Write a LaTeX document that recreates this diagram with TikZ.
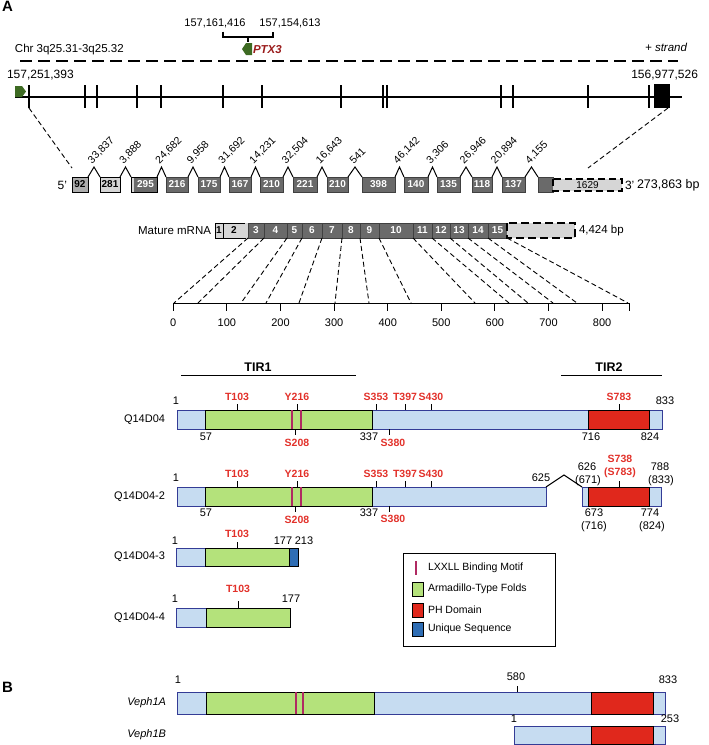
\documentclass[tikz,border=0pt]{standalone}
\usepackage{fontspec}
\setmainfont{Liberation Sans}
\definecolor{lblue}{HTML}{C6DCF1}
\definecolor{bborder}{HTML}{343C96}
\definecolor{lgreen}{HTML}{B4E27B}
\definecolor{pred}{HTML}{E0281C}
\definecolor{ublue}{HTML}{2E6DB4}
\definecolor{lxxll}{HTML}{B02A62}
\definecolor{exdark}{HTML}{6A6A6A}
\definecolor{exlight}{HTML}{D6D6D6}
\definecolor{exmid}{HTML}{AEAEAE}
\definecolor{ptx}{HTML}{9A1B1B}
\definecolor{agreen}{HTML}{3E6B23}
\definecolor{lred}{HTML}{E2312A}
\begin{document}
\begin{tikzpicture}[x=1pt,y=-1pt,
 every node/.style={inner sep=0pt, outer sep=0pt},
 lab/.style={font=\fontsize{11}{12}\selectfont},
 biglab/.style={font=\fontsize{12}{13}\selectfont},
 redlab/.style={font=\bfseries\fontsize{10.5}{12}\selectfont, text=lred},
 intr/.style={font=\fontsize{10.5}{11}\selectfont, rotate=45, anchor=south west},
 exd/.style={fill=exdark, draw=black!75, line width=0.6pt},
 exl/.style={fill=exlight, draw=black, line width=0.8pt},
 extd/.style={font=\bfseries\fontsize{10}{10}\selectfont, text=white},
 extl/.style={font=\bfseries\fontsize{10}{10}\selectfont, text=black},
 prot/.style={fill=lblue, draw=bborder, line width=1pt},
 arm/.style={fill=lgreen, draw=black, line width=0.9pt},
 ph/.style={fill=pred, draw=black, line width=0.9pt},
 uniq/.style={fill=ublue, draw=black, line width=0.9pt},
 motif/.style={draw=lxxll, line width=1.1pt},
 tk/.style={line width=0.8pt},
 conn/.style={dash pattern=on 5pt off 3pt, line width=0.9pt},
 leg/.style={anchor=west, font=\fontsize{10.5}{11}\selectfont},
 bold/.style={font=\bfseries\fontsize{12.5}{13}\selectfont},
]
\useasboundingbox (0,0) rectangle (709,745);

% ---------------- Panel A: chromosome ----------------
\node[font=\bfseries\fontsize{15}{15}\selectfont, anchor=north west] (pA) at (2,1.5) {A};
\node[lab] (c1) at (215,23) {157,161,416};
\node[lab] (c2) at (290,23) {157,154,613};
\draw[line width=1.3pt] (223,31.5) -- (223,37) -- (273,37) -- (273,31.5);
\draw[line width=1.3pt] (248,37) -- (248,42);
\fill[agreen] (242,49) -- (246,43) -- (252,43) -- (252,55) -- (246,55) -- cycle;
\node[font=\bfseries\itshape\fontsize{11.5}{12}\selectfont, text=ptx, anchor=west] (ptx3) at (253,50) {PTX3};
\node[font=\fontsize{11.5}{12}\selectfont, anchor=west] (chr) at (15,50) {Chr 3q25.31-3q25.32};
\draw[dash pattern=on 12pt off 6pt, line width=1.4pt] (20,61) -- (678,61);
\node[anchor=east, font=\itshape\fontsize{11.5}{12}\selectfont] (strand) at (687,47) {+ strand};
\node[biglab, anchor=west] (g1) at (7,75) {157,251,393};
\node[biglab, anchor=east] (g2) at (698,75) {156,977,526};

\draw[line width=1.1pt] (15,97) -- (682,97);
\fill[agreen] (15,86) -- (22,86) -- (26,91.5) -- (22,97) -- (15,97) -- cycle;
\foreach \x in {29,85,97,137,161,223,262,341,383,387,501,513,588,649}
  \draw[line width=1.1pt] (\x,85) -- (\x,108);
\fill (654,84) rectangle (670,108);
\coordinate (e1b) at (29,108);
\coordinate (e15b) at (668,108);
\coordinate (r5) at (72,168);
\coordinate (r3) at (588,168);
\draw[conn] (e1b) -- (r5);
\draw[conn] (e15b) -- (r3);

% ---------------- exon structure ----------------
\node[biglab, anchor=east] (p5) at (67,185) {5'};
\filldraw[fill=exmid, draw=black, line width=0.9pt] (72,177) rectangle (88,192);
\node[extl] (x92) at (80,184.5) {92};
\filldraw[exl] (100,177) rectangle (120,192);
\node[extl] (x281) at (110,184.5) {281};
\fill[exlight] (131,177) rectangle (134,192);
\fill[exdark] (134,177) rectangle (157,192);
\draw[black, line width=0.8pt] (131,177) rectangle (157,192);
\node[extd] (x295) at (145.5,184.5) {295};
\foreach \a/\b/\t [count=\i] in {166/188/216, 198/220/175, 229/251/167, 260/283/210,
   293/317/221, 327/348/210, 362/395/398, 404/428/140, 437/460/135, 472/492/118, 502/525/137} {
  \filldraw[exd] (\a,177) rectangle (\b,192);
  \node[extd] (xd\i) at ({(\a+\b)/2},184.5) {\t};
}
\filldraw[exd] (538,177) rectangle (553,192);
\filldraw[fill=exlight, draw=black, dash pattern=on 7pt off 4pt, line width=1.1pt] (553,179) rectangle (622,191);
\node[font=\fontsize{10}{10}\selectfont] (x1629) at (587.5,185) {1629};
\node[biglab, anchor=west] (p3) at (625,185) {3'};
\node[font=\fontsize{12.5}{13}\selectfont, anchor=west] (bp1) at (637,185) {273,863 bp};

\foreach \a/\b/\t [count=\i] in {88/100/{33,837}, 120/131/{3,888}, 157/166/{24,682},
   188/198/{9,958}, 220/229/{31,692}, 251/260/{14,231}, 283/293/{32,504}, 317/327/{16,643},
   348/362/{541}, 395/404/{46,142}, 428/437/{3,306}, 460/472/{26,946}, 492/502/{20,894},
   525/538/{4,155}} {
  \draw[line width=1pt] (\a,177) -- ({(\a+\b)/2},167) -- (\b,177);
  \node[intr] (in\i) at ({(\a+\b)/2-1},165) {\t};
}

% ---------------- mature mRNA ----------------
\node[font=\fontsize{11.5}{12}\selectfont, anchor=east] (mm) at (211,230.5) {Mature mRNA};
\filldraw[exl] (215,223) rectangle (223,238);
\node[extl] (m1) at (219,230.5) {1};
\filldraw[exl] (223,223) rectangle (245,238);
\node[extl] (m2) at (234,230.5) {2};
\fill[exlight] (245,223) rectangle (248,238);
\foreach \a/\b/\t in {248/264/3, 264/287/4, 287/302/5, 302/322/6, 322/342/7, 342/360/8,
   360/379/9, 379/413/10, 413/432/11, 432/450/12, 450/468/13, 468/488/14, 488/507/15} {
  \filldraw[exd] (\a,223) rectangle (\b,238);
  \node[extd] (m\t) at ({(\a+\b)/2},230.5) {\t};
}
\filldraw[fill=exlight, draw=black, dash pattern=on 8pt off 4pt, line width=1.2pt] (507,223) rectangle (575,238);
\node[font=\fontsize{11.5}{12}\selectfont, anchor=west] (bp2) at (579,230.5) {4,424 bp};

% connectors to scale
\foreach \t/\b [count=\i] in {248/174, 264/198, 287/241, 302/266, 322/299, 342/335, 360/369,
   379/411, 413/475, 432/509, 450/528, 468/553, 488/577, 507/628} {
  \coordinate (mt\i) at (\t,238);
  \coordinate (mb\i) at (\b,303);
  \draw[conn] (mt\i) -- (mb\i);
}

% scale axis
\coordinate (ax0) at (173.3,303);
\coordinate (ax1) at (629,303);
\draw[line width=1pt] (ax0) -- (ax1);
\foreach \v [count=\i] in {0,100,...,800} {
  \draw[line width=1pt] ({173.3+0.536*\v},303) -- ++(0,8);
  \node[lab] (axl\i) at ({173.3+0.536*\v},323) {\v};
}
\draw[line width=1pt] (ax1) -- ++(0,8);

% ---------------- TIR headers ----------------
\node[bold] (tir1) at (258,367) {TIR1};
\draw[line width=1pt] (181,375) -- (356,375);
\node[bold] (tir2) at (609,367) {TIR2};
\draw[line width=1pt] (561,375) -- (662,375);

% ---------------- Q14D04 ----------------
\node[lab, anchor=east] (q1) at (165,419.5) {Q14D04};
\filldraw[prot] (177,410) rectangle (662,429);
\filldraw[arm] (205,410) rectangle (372,429);
\filldraw[ph] (588,410) rectangle (649,429);
\draw[motif] (292,410) -- (292,429) (301,410) -- (301,429);
\foreach \x/\t [count=\i] in {237/T103, 297/Y216, 376/S353, 405/T397, 431/S430, 619/S783} {
  \draw[tk] (\x,404) -- (\x,410);
  \node[redlab] (q1t\i) at (\x,397) {\t};
}
\draw[tk] (295,429) -- (295,435);
\draw[tk] (389,429) -- (389,435);
\node[redlab] (q1b1) at (297,443) {S208};
\node[redlab] (q1b2) at (393,443) {S380};
\node[lab] (q1n1) at (176,401) {1};
\node[lab] (q1n2) at (665,401) {833};
\node[lab] (q1n3) at (206,437) {57};
\node[lab] (q1n4) at (369,437) {337};
\node[lab] (q1n5) at (591,437) {716};
\node[lab] (q1n6) at (650,437) {824};

% ---------------- Q14D04-2 ----------------
\node[lab, anchor=east] (q2) at (165,496.5) {Q14D04-2};
\filldraw[prot] (177,487) rectangle (546,506);
\filldraw[arm] (205,487) rectangle (372,506);
\draw[motif] (292,487) -- (292,506) (301,487) -- (301,506);
\coordinate (sp1) at (546,487);
\coordinate (sp2) at (564,475);
\coordinate (sp3) at (582,487);
\draw[line width=1pt] (sp1) -- (sp2) -- (sp3);
\filldraw[prot] (582,487) rectangle (661,506);
\filldraw[ph] (588,487) rectangle (649,506);
\foreach \x/\t [count=\i] in {237/T103, 297/Y216, 376/S353, 405/T397, 431/S430} {
  \draw[tk] (\x,481) -- (\x,487);
  \node[redlab] (q2t\i) at (\x,474) {\t};
}
\draw[tk] (619,481) -- (619,487);
\node[redlab] (q2s1) at (620,459) {S738};
\node[redlab] (q2s2) at (620,473) {(S783)};
\draw[tk] (295,506) -- (295,512);
\draw[tk] (389,506) -- (389,512);
\node[redlab] (q2b1) at (297,520) {S208};
\node[redlab] (q2b2) at (393,519) {S380};
\node[lab] (q2n1) at (176,478) {1};
\node[lab] (q2n2) at (541,478) {625};
\node[lab] (q2n3) at (587,467) {626};
\node[lab] (q2n4) at (588,481) {(671)};
\node[lab] (q2n5) at (660,467) {788};
\node[lab] (q2n6) at (661,481) {(833)};
\node[lab] (q2n7) at (206,513) {57};
\node[lab] (q2n8) at (369,513) {337};
\node[lab] (q2n9) at (594,513) {673};
\node[lab] (q2n10) at (594,527) {(716)};
\node[lab] (q2n11) at (650,513) {774};
\node[lab] (q2n12) at (652,527) {(824)};

% ---------------- Q14D04-3 ----------------
\node[lab, anchor=east] (q3) at (165,557) {Q14D04-3};
\filldraw[prot] (176,548) rectangle (298,566);
\filldraw[arm] (205,548) rectangle (289,566);
\filldraw[uniq] (289,548) rectangle (298,566);
\draw[tk] (237,542) -- (237,548);
\node[redlab] (q3t1) at (237,534) {T103};
\node[lab] (q3n1) at (175,541) {1};
\node[lab] (q3n2) at (283,541) {177};
\node[lab] (q3n3) at (304,541) {213};

% ---------------- Q14D04-4 ----------------
\node[lab, anchor=east] (q4) at (165,617.5) {Q14D04-4};
\filldraw[prot] (176,608) rectangle (290,627);
\filldraw[arm] (206,608) rectangle (290,627);
\draw[tk] (238,601) -- (238,608);
\node[redlab] (q4t1) at (238,589) {T103};
\node[lab] (q4n1) at (175,599) {1};
\node[lab] (q4n2) at (291,599) {177};

% ---------------- legend ----------------
\draw[line width=1pt] (403,553) rectangle (555,646);
\draw[lxxll, line width=2.2pt] (416,561) -- (416,575);
\node[leg] (lg1) at (428,568) {LXXLL Binding Motif};
\filldraw[arm] (412,582) rectangle (423,596);
\node[leg] (lg2) at (428,589) {Armadillo-Type Folds};
\filldraw[ph] (412,603) rectangle (423,617);
\node[leg] (lg3) at (428,610) {PH Domain};
\filldraw[uniq] (412,622) rectangle (423,636);
\node[leg] (lg4) at (428,629) {Unique Sequence};

% ---------------- Panel B ----------------
\node[font=\bfseries\fontsize{15}{15}\selectfont, anchor=north west] (pB) at (2,682) {B};
\node[font=\itshape\fontsize{11}{12}\selectfont, anchor=east] (v1) at (166,703) {Veph1A};
\filldraw[prot] (177,692) rectangle (665,714);
\filldraw[arm] (206,692) rectangle (374,714);
\draw[motif] (296,692) -- (296,714) (303,692) -- (303,714);
\filldraw[ph] (591,692) rectangle (653,714);
\draw[tk] (517,686) -- (517,692);
\node[lab] (v1n1) at (178,680) {1};
\node[lab] (v1n2) at (516,677) {580};
\node[lab] (v1n3) at (668,680) {833};

\node[font=\itshape\fontsize{11}{12}\selectfont, anchor=east] (v2) at (166,735) {Veph1B};
\filldraw[prot] (514,726) rectangle (665,744);
\filldraw[ph] (591,726) rectangle (653,744);
\node[lab] (v2n1) at (514,719) {1};
\node[lab] (v2n2) at (670,719) {253};
\end{tikzpicture}
\end{document}
